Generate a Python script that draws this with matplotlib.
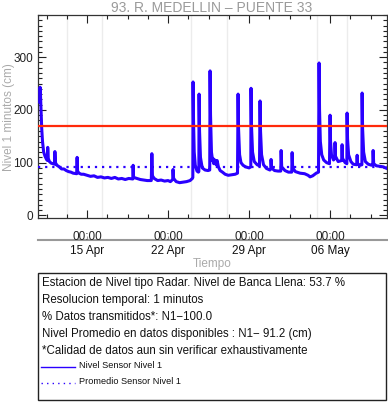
import numpy as np
import pandas as pd
import matplotlib
matplotlib.use("Agg")
import matplotlib.pyplot as plt
import matplotlib.dates as mdates
from matplotlib.ticker import MultipleLocator, FixedLocator

plt.rcParams['font.family'] = ['Liberation Sans', 'DejaVu Sans']

# Serie: dias desde 2024-04-15 00:00 y nivel (cm)
t_dias = [-4.10, -4.06, -4.02, -3.98, -3.92, -3.85, -3.75, -3.63, -3.50, -3.42,
          -3.40, -3.36, -3.25, -3.10, -2.80, -2.78, -2.74, -2.60, -2.40, -2.20,
          -2.00, -1.80, -1.60, -1.40, -1.20, -0.90, -0.86, -0.82, -0.70, -0.50,
          -0.30, 0.00, 0.30, 0.60, 0.90, 1.20, 1.50, 1.80, 2.10, 2.40,
          2.70, 3.00, 3.30, 3.60, 3.95, 3.98, 4.02, 4.30, 4.60, 4.90,
          5.20, 5.55, 5.60, 5.65, 5.80, 6.10, 6.40, 6.70, 7.00, 7.20,
          7.40, 7.43, 7.48, 7.70, 8.00, 8.30, 8.60, 8.90, 9.10, 9.14,
          9.16, 9.20, 9.26, 9.35, 9.50, 9.62, 9.66, 9.68, 9.72, 9.80,
          9.95, 10.20, 10.45, 10.60, 10.63, 10.67, 10.75, 10.85, 10.89, 10.95,
          11.05, 11.15, 11.24, 11.35, 11.50, 11.70, 11.93, 12.20, 12.50, 12.80,
          13.00, 13.05, 13.09, 13.18, 13.30, 13.48, 13.70, 14.00, 14.15, 14.17,
          14.21, 14.30, 14.45, 14.70, 14.90, 14.95, 14.99, 15.08, 15.25, 15.50,
          15.80, 15.88, 15.90, 15.94, 16.20, 16.50, 16.74, 16.77, 16.82, 17.10,
          17.40, 17.69, 17.72, 17.77, 18.00, 18.41, 18.80, 19.10, 19.27, 19.50,
          19.80, 20.00, 20.05, 20.09, 20.16, 20.28, 20.45, 20.70, 20.95, 21.00,
          21.04, 21.12, 21.30, 21.40, 21.43, 21.47, 21.70, 22.00, 22.04, 22.08,
          22.30, 22.45, 22.47, 22.51, 22.60, 22.80, 23.00, 23.30, 23.34, 23.38,
          23.60, 23.75, 23.77, 23.81, 23.90, 24.05, 24.30, 24.60, 24.69, 24.72,
          24.77, 25.00, 25.30, 25.60, 25.90]
nivel_cm = [215, 243, 225, 200, 165, 140, 120, 112, 106, 104,
            129, 108, 102, 99, 97, 121, 100, 95, 92, 88,
            88, 85, 83, 82, 80, 79, 110, 84, 80, 78,
            78, 76, 74, 75, 72, 73, 71, 72, 70, 72,
            69, 70, 68, 70, 69, 95, 72, 70, 68, 67,
            66, 66, 117, 75, 70, 66, 67, 65, 66, 64,
            68, 87, 70, 64, 62, 63, 64, 66, 70, 72,
            253, 180, 120, 95, 84, 82, 83, 230, 160, 110,
            90, 86, 85, 86, 274, 190, 120, 103, 108, 98,
            105, 96, 104, 92, 85, 82, 78, 76, 77, 78,
            80, 230, 165, 115, 100, 95, 92, 90, 92, 241,
            170, 120, 102, 96, 94, 217, 160, 115, 96, 89,
            86, 88, 106, 90, 85, 84, 84, 123, 92, 85,
            82, 82, 119, 90, 83, 80, 79, 76, 73, 75,
            80, 82, 289, 200, 140, 115, 105, 100, 98, 190,
            140, 115, 105, 108, 138, 112, 102, 104, 134, 108,
            100, 98, 194, 145, 115, 102, 97, 96, 114, 98,
            95, 96, 232, 165, 120, 102, 97, 95, 96, 123,
            98, 94, 93, 92, 89]

nivel_promedio = 91.2
nivel_banca_llena = 170
titulo = "93. R. MEDELLIN \u2013 PUENTE 33"
textos_info = [
    "Estacion de Nivel tipo Radar. Nivel de Banca Llena: 53.7 %",
    "Resolucion temporal: 1 minutos",
    "% Datos transmitidos*: N1\u2212100.0",
    "Nivel Promedio en datos disponibles : N1\u2212 91.2 (cm)",
    "*Calidad de datos aun sin verificar exhaustivamente",
]

W, H = 388, 403
fig = plt.figure(figsize=(W / 100, H / 100), dpi=100)
ax = fig.add_axes([38 / W, 1 - 218 / H, (387 - 38) / W, (218 - 15) / H])

ref = pd.Timestamp("2024-04-15")
fechas = ref + pd.to_timedelta(t_dias, unit="D")

azul = "#2a00ff"
ax.plot(fechas, nivel_cm, color=azul, lw=2.2, zorder=3)
ax.axhline(nivel_banca_llena, color="#ff2a0a", lw=1.6, zorder=4)
ax.axhline(nivel_promedio, color=azul, lw=1.6, ls=(0, (1, 2.2)), zorder=4)

x0 = ref + pd.Timedelta(days=-4.24)
x1 = ref + pd.Timedelta(days=25.92)
ax.set_xlim(x0, x1)
ax.set_ylim(-5, 380)

# lineas de fondo tenues
for d in [-1.72, 1.28, 9.0, 12.1, 19.9, 22.45]:
    ax.axvline(ref + pd.Timedelta(days=d), color="#ececec", lw=1.0, zorder=1)

mayores = [ref + pd.Timedelta(days=7 * k) for k in range(4)]
menores = [ref + pd.Timedelta(days=1.75 * k) for k in range(-2, 15)]
ax.xaxis.set_major_locator(FixedLocator(mdates.date2num(mayores)))
ax.xaxis.set_minor_locator(FixedLocator(mdates.date2num(menores)))
ax.xaxis.set_major_formatter(mdates.DateFormatter("%H:%M"))
ax.yaxis.set_major_locator(MultipleLocator(100))
ax.yaxis.set_minor_locator(MultipleLocator(10))

ax.tick_params(which="both", direction="in", top=True, right=True,
               labelsize=8.5, colors="#222222", width=0.8)
ax.tick_params(which="major", length=6)
ax.tick_params(which="minor", length=3)
ax.tick_params(axis="x", pad=9)
for s in ax.spines.values():
    s.set_color("#333333")
    s.set_linewidth(0.9)

sec = ax.secondary_xaxis(-0.108)
sec.xaxis.set_major_locator(FixedLocator(mdates.date2num(mayores)))
sec.xaxis.set_major_formatter(mdates.DateFormatter("%d %b"))
sec.tick_params(direction="in", length=3, colors="#999999", labelcolor="#111111",
                labelsize=8.5, pad=4)
sec.spines["bottom"].set_color("#999999")
sec.spines["bottom"].set_linewidth(1.5)

fig.text(212 / W, 1 - 7.5 / H, titulo, ha="center", va="center",
         color="#9a9a9a", fontsize=10)
fig.text(212 / W, 1 - 264 / H, "Tiempo", ha="center", va="center",
         color="#aaaaaa", fontsize=8.5)
fig.text(9 / W, 1 - 117 / H, "Nivel 1 minutos (cm)", ha="center", va="center",
         rotation=90, color="#aaaaaa", fontsize=8.5)

# recuadro de informacion
caja = plt.Rectangle((38 / W, 1 - 400 / H), (386 - 38) / W, (400 - 273) / H,
                     transform=fig.transFigure, fill=False, ec="#222222", lw=1.0)
fig.add_artist(caja)
for i, txt in enumerate(textos_info):
    fig.text(42 / W, 1 - (283 + 17 * i) / H, txt, ha="left", va="center",
             fontsize=8.3, color="#111111")
fig.add_artist(plt.Line2D([41 / W, 75 / W], [1 - 367 / H] * 2,
                          transform=fig.transFigure, color=azul, lw=1.0))
fig.add_artist(plt.Line2D([41 / W, 75 / W], [1 - 383 / H] * 2,
                          transform=fig.transFigure, color=azul, lw=1.0,
                          ls=(0, (1, 3))))
fig.text(79 / W, 1 - 366 / H, "Nivel Sensor Nivel 1", ha="left", va="center",
         fontsize=6.6, color="#111111")
fig.text(79 / W, 1 - 382 / H, "Promedio Sensor Nivel 1", ha="left", va="center",
         fontsize=6.6, color="#111111")

fig.savefig("out.png", dpi=100)
